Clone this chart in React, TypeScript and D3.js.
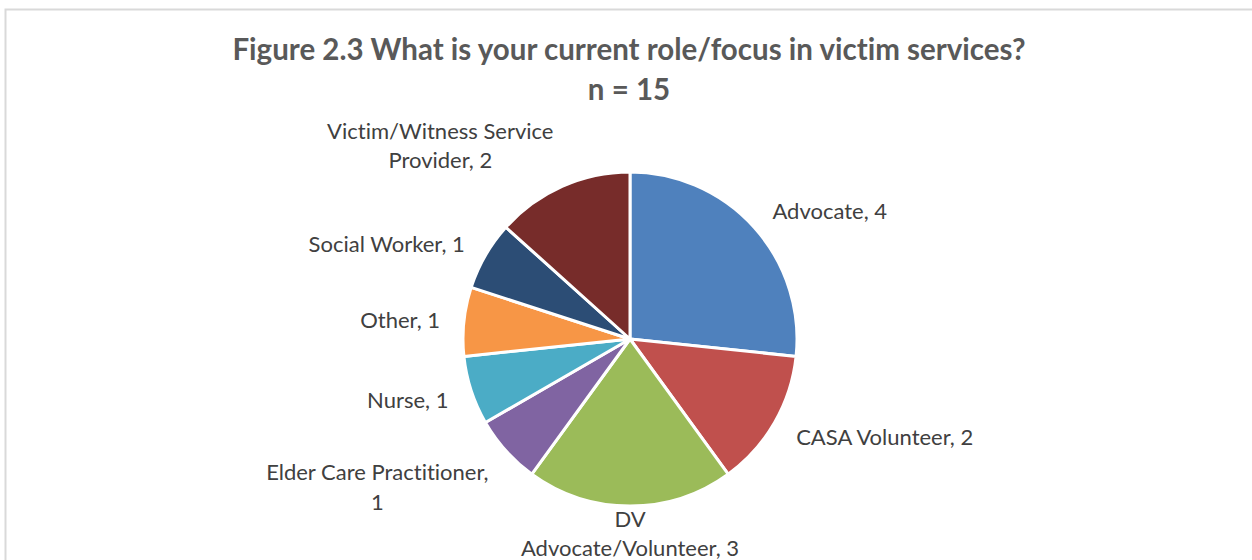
import { useEffect, useRef } from 'react';
import * as d3 from 'd3';

const categories = [
  'Advocate',
  'CASA Volunteer',
  'DV Advocate/Volunteer',
  'Elder Care Practitioner',
  'Nurse',
  'Other',
  'Social Worker',
  'Victim/Witness Service Provider',
];
const counts = [4, 2, 3, 1, 1, 1, 1, 2];
const colors = ['#4F81BD', '#C0504D', '#9BBB59', '#8064A2', '#4BACC6', '#F79646', '#2C4D75', '#772C2A'];
// how each data label wraps in the original
const labelLines = [
  ['Advocate, 4'],
  ['CASA Volunteer, 2'],
  ['DV', 'Advocate/Volunteer, 3'],
  ['Elder Care Practitioner,', '1'],
  ['Nurse, 1'],
  ['Other, 1'],
  ['Social Worker, 1'],
  ['Victim/Witness Service', 'Provider, 2'],
];
const titleLines = ['Figure 2.3 What is your current role/focus in victim services?', 'n = 15'];

const W = 1252;
const H = 560;
const FONT = 'Lato, "Open Sans", sans-serif';

export default function App() {
  const svgRef = useRef<SVGSVGElement>(null);

  useEffect(() => {
    const svg = d3.select(svgRef.current);
    svg.selectAll('*').remove();

    // chart frame, runs off the right and bottom edges
    svg.append('rect')
      .attr('x', 5.5).attr('y', 9.5)
      .attr('width', W + 20).attr('height', H + 20)
      .attr('fill', '#fff')
      .attr('stroke', '#d9d9d9')
      .attr('stroke-width', 2);

    // title
    svg.append('g').selectAll('text')
      .data(titleLines)
      .join('text')
      .attr('x', 629)
      .attr('y', (_, i) => 60 + i * 40)
      .attr('text-anchor', 'middle')
      .attr('font-family', FONT)
      .attr('font-weight', 'bold')
      .attr('font-size', 29.5)
      .attr('fill', '#595959')
      .style('font-variant-ligatures', 'none')
      .text(d => d);

    const cx = 630, cy = 339, r = 167;
    const data = categories.map((c, i) => ({ name: c, value: counts[i], idx: i }));
    const pie = d3.pie<any>().value(d => d.value).sort(null);
    const arcs = pie(data);
    const arc = d3.arc<any>().innerRadius(0).outerRadius(r);
    const labelArc = d3.arc<any>().innerRadius(193).outerRadius(193);

    const g = svg.append('g').attr('transform', `translate(${cx},${cy})`);
    g.selectAll('path')
      .data(arcs)
      .join('path')
      .attr('d', arc)
      .attr('fill', d => colors[d.data.idx])
      .attr('stroke', '#fff')
      .attr('stroke-width', 3)
      .attr('stroke-linejoin', 'round');

    // data labels (best-fit outside the slices)
    const lineH = 29.5;
    const maxBase = H - 4 - cy;
    arcs.forEach(a => {
      const [lx, ly] = labelArc.centroid(a);
      const mid = (a.startAngle + a.endAngle) / 2;
      const lines = labelLines[a.data.idx];
      const n = lines.length;
      let shift = 9 - Math.sign(Math.cos(mid)) * (n - 1) * 18;
      const lastBase = ly + shift + ((n - 1) / 2) * lineH;
      if (lastBase > maxBase) shift -= lastBase - maxBase;
      const t = g.append('text')
        .attr('font-family', FONT)
        .attr('font-size', 22)
        .attr('fill', '#404040')
        .attr('text-anchor', 'middle')
        .style('font-variant-ligatures', 'none');
      const spans = lines.map((s, i) =>
        t.append('tspan').attr('y', ly + shift + (i - (n - 1) / 2) * lineH).text(s));
      const widths = spans.map(sp => (sp.node() as SVGTSpanElement).getComputedTextLength());
      const bw = Math.max(...widths);
      let x = lx;
      if (Math.abs(lx) > 20) x = lx > 0 ? lx - 1 + bw / 2 : lx + 2 - bw / 2;
      spans.forEach(sp => sp.attr('x', x));
    });
  }, []);

  return (
    <svg
      ref={svgRef}
      width={W}
      height={H}
      style={{ position: 'absolute', left: 0, top: 0, background: '#fff', display: 'block' }}
    />
  );
}
